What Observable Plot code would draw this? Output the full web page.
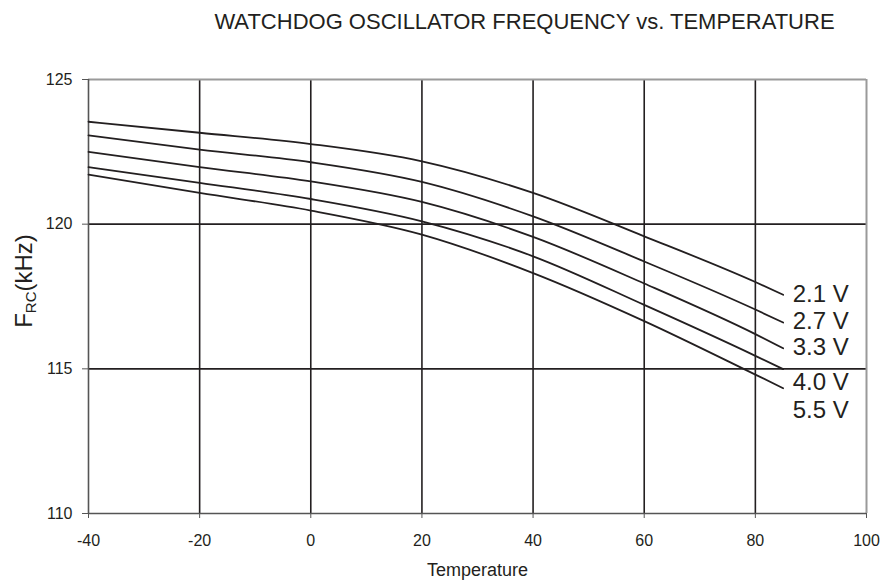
<!DOCTYPE html>
<html>
<head>
<meta charset="utf-8">
<script src="https://cdn.jsdelivr.net/npm/d3@7"></script>
<script src="https://cdn.jsdelivr.net/npm/@observablehq/plot@0.6"></script>
<style>
  body { margin: 0; background: #fff; }
  #chart { width: 885px; height: 581px; }
  svg { font-family: "Liberation Sans", Arial, sans-serif; }
</style>
</head>
<body>
<div id="chart"></div>
<script>
const temps = [-40, -20, 0, 20, 40, 60, 80, 85];
const series = ["2.1 V", "2.7 V", "3.3 V", "4.0 V", "5.5 V"];
const v21 = [123.54, 123.16, 122.77, 122.17, 121.08, 119.58, 118.00, 117.56];
const v27 = [123.07, 122.58, 122.14, 121.46, 120.27, 118.71, 117.05, 116.60];
const v33 = [122.50, 121.97, 121.48, 120.77, 119.56, 117.95, 116.20, 115.71];
const v40 = [121.97, 121.43, 120.87, 120.10, 118.89, 117.21, 115.45, 114.99];
const v55 = [121.71, 121.08, 120.47, 119.64, 118.31, 116.65, 114.80, 114.33];
const labelY = [117.56, 116.64, 115.73, 114.52, 113.58];
const labelX = 86;
const xTicks = [-40, -20, 0, 20, 40, 60, 80, 100];
const yTicks = [110, 115, 120, 125];
const gridX = [-20, 0, 20, 40, 60, 80];
const gridY = [115, 120];
const title = "WATCHDOG OSCILLATOR FREQUENCY vs. TEMPERATURE";

const values = [v21, v27, v33, v40, v55];
const rows = [];
series.forEach((s, i) => temps.forEach((t, j) => rows.push({series: s, t, f: values[i][j]})));
const labels = series.map((s, i) => ({series: s, t: labelX, f: labelY[i]}));

const plot = Plot.plot({
  width: 885,
  height: 581,
  marginLeft: 88,
  marginRight: 19,
  marginTop: 79,
  marginBottom: 68,
  style: {fontFamily: '"Liberation Sans", Arial, sans-serif', fontSize: "16px", color: "#231f20"},
  x: {domain: [-40, 100], ticks: xTicks, label: null},
  y: {domain: [110, 125], ticks: yTicks, label: null},
  marks: [
    Plot.ruleX(gridX, {stroke: "#231f20", strokeWidth: 1.6}),
    Plot.ruleY(gridY, {stroke: "#231f20", strokeWidth: 1.6}),
    Plot.ruleY([125], {stroke: "#9a9a9a", strokeWidth: 2}),
    Plot.ruleX([100], {stroke: "#9a9a9a", strokeWidth: 2}),
    Plot.ruleX([-40], {stroke: "#555", strokeWidth: 1.6}),
    Plot.ruleY([110], {stroke: "#555", strokeWidth: 1.6}),
    Plot.axisX({ticks: xTicks, tickSize: 5, tickPadding: 16, stroke: "#555", tickFormat: d => String(d), label: null}),
    Plot.axisY({ticks: yTicks, tickSize: 6, tickPadding: 10, stroke: "#555", tickFormat: d => String(d), label: null}),
    Plot.line(rows, {x: "t", y: "f", z: "series", curve: "monotone-x", stroke: "#231f20", strokeWidth: 1.8}),
    Plot.text(labels, {x: "t", y: "f", text: "series", textAnchor: "start", dx: 4, fontSize: 24, fill: "#231f20"}),
    Plot.text([title], {frameAnchor: "top", dy: -66, dx: 47, fontSize: 22, fill: "#231f20"}),
    Plot.text(["Temperature"], {frameAnchor: "bottom", dy: 62, fontSize: 18, fill: "#231f20"})
  ]
});

const svg = d3.select(plot);
const yl = svg.append("text")
  .attr("transform", "translate(32,281) rotate(-90)")
  .attr("text-anchor", "middle")
  .attr("font-size", 24)
  .attr("fill", "#231f20");
yl.append("tspan").text("F");
yl.append("tspan").attr("font-size", 15).attr("dy", 4).text("RC");
yl.append("tspan").attr("dy", -4).text("(kHz)");

document.getElementById("chart").append(plot);
</script>
</body>
</html>
